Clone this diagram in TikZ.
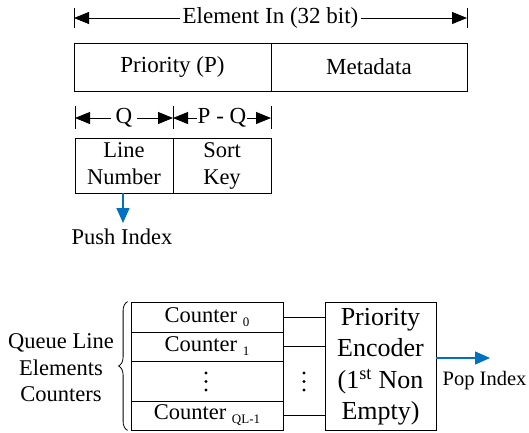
\documentclass[tikz,border=0pt]{standalone}
\usepackage{fontspec}
\setmainfont{Liberation Serif}
\usetikzlibrary{arrows.meta,decorations.pathreplacing}
\definecolor{arrowblue}{RGB}{0,112,192}
\newcommand{\subsc}[1]{\raisebox{-4pt}{\fontsize{13}{13}\selectfont #1}}
\begin{document}
\begin{tikzpicture}[x=1pt,y=-1pt,
  every node/.style={font=\fontsize{23}{27}\selectfont},
  fld/.style={draw,line width=0.8pt,inner sep=0pt,align=center},
  dim/.style={line width=0.9pt,{Triangle[length=15pt,width=12pt]}-{Triangle[length=15pt,width=12pt]}},
  tick/.style={line width=0.9pt},
  lbl/.style={fill=white,inner sep=2pt},
  blue arrow/.style={draw=arrowblue,line width=1.3pt,-{Triangle[length=15pt,width=13pt]},arrowblue},
  wire/.style={line width=0.8pt},
  dotmark/.style={fill=black,draw=none,circle,inner sep=0pt,minimum size=3.4pt}]
\useasboundingbox (0,0) rectangle (529,432);
% top dimension
\coordinate (t1) at (74,18);
\coordinate (t2) at (467,18);
\draw[tick] (74,8) -- (74,28);
\draw[tick] (467,8) -- (467,28);
\draw[dim] (t1) -- (t2) node[midway,lbl,inner sep=3pt] (elin) {Element In (32 bit)};
% element box
\node[fld,minimum width=197pt,minimum height=48pt] (prio) at (172.5,67) {Priority (P)};
\node[fld,minimum width=196pt,minimum height=48pt] (meta) at (369,67) {Metadata};
% Q dimensions
\coordinate (q1) at (75,118);
\coordinate (q2) at (173,118);
\coordinate (q3) at (271,118);
\draw[tick] (75,106) -- (75,129);
\draw[tick] (173,106) -- (173,129);
\draw[tick] (271,106) -- (271,129);
\draw[dim] (q1) -- (q2) node[midway,lbl,inner sep=5pt] (qlbl) {Q};
\draw[dim] (q2) -- (q3) node[midway,lbl,inner sep=1pt] (pqlbl) {P - Q};
% line number / sort key
\node[fld,minimum width=98pt,minimum height=55pt,font=\fontsize{22.5}{27}\selectfont] (line) at (124,165.5) {\strut Line\\Number\strut};
\node[fld,minimum width=98pt,minimum height=55pt,font=\fontsize{22.5}{27}\selectfont] (sort) at (222,165.5) {\strut Sort\\Key\strut};
\node[font=\fontsize{22.5}{27}\selectfont] (push) at (122,237) {Push Index};
\coordinate (pushend) at (123,223);
\draw[blue arrow] (line.south -| pushend) -- (pushend);
% counters
\node[fld,minimum width=152pt,minimum height=30pt,font=\fontsize{22.5}{27}\selectfont] (c0) at (207,317) {Counter \subsc{0}};
\node[fld,minimum width=152pt,minimum height=29pt,font=\fontsize{22.5}{27}\selectfont] (c1) at (207,346.5) {Counter \subsc{1}};
\node[fld,minimum width=152pt,minimum height=40pt] (cd) at (207,381) {};
\node[fld,minimum width=152pt,minimum height=29pt,font=\fontsize{22.5}{27}\selectfont] (cq) at (207,415.5) {Counter \subsc{QL-1}};
\node[dotmark] (d1) at (206,373) {};
\node[dotmark] (d2) at (206,381.5) {};
\node[dotmark] (d3) at (206,390) {};
% encoder
\node[fld,minimum width=111pt,minimum height=128pt,font=\fontsize{26}{31.5}\selectfont] (enc) at (380.5,366) {\strut Priority\\Encoder\\(1\textsuperscript{st} Non\\Empty)\strut};
\draw[wire] (c0.east) -- (c0.east -| enc.west);
\draw[wire] (c1.east) -- (c1.east -| enc.west);
\draw[wire] (cq.east) -- (cq.east -| enc.west);
\node[dotmark] (e1) at (304,373) {};
\node[dotmark] (e2) at (304,381.5) {};
\node[dotmark] (e3) at (304,390) {};
% pop
\coordinate (popend) at (490,358);
\draw[blue arrow] (enc.east |- popend) -- (popend);
\node[font=\fontsize{20.5}{24}\selectfont] (pop) at (484.5,381) {Pop Index};
% brace
\coordinate (bt) at ([xshift=-3pt]c0.north west);
\coordinate (bb) at ([xshift=-3pt]cq.south west);
\draw[line width=0.8pt,decorate,decoration={brace,amplitude=9pt}] (bb) -- (bt);
\node[align=center,font=\fontsize{22.5}{26.5}\selectfont] (qlec) at (61,368) {Queue Line\\Elements\\Counters};
\end{tikzpicture}
\end{document}
